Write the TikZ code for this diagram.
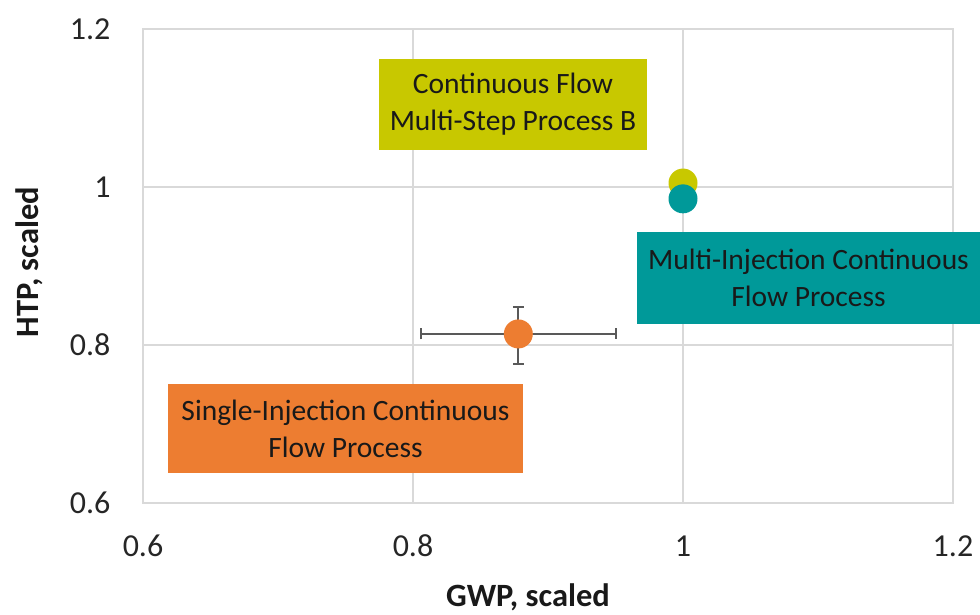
\documentclass[tikz,border=0pt]{standalone}
\usepackage{fontspec}
\setmainfont{Carlito}
\usepackage{tikz}
\usetikzlibrary{arrows.meta,positioning}

\begin{document}
\begin{tikzpicture}[x=1pt, y=1pt,
    every node/.style={font=\fontsize{29.5}{37}\selectfont},
    ticklabel/.style={font=\fontsize{32}{38}\selectfont, text=black!85},
    axistitle/.style={font=\fontsize{32.5}{38}\selectfont\bfseries, text=black!90},
    labelbox/.style={inner sep=0pt, align=center, text=black!90},
    dot/.style={circle, inner sep=0pt, minimum size=29pt},
    errbar/.style={draw=black!65, line width=1.8pt, {Bar[width=11pt]}-{Bar[width=11pt]}}]
    \definecolor{gridgray}{HTML}{D9D9D9}
    \definecolor{ptyellow}{HTML}{C8C800}
    \definecolor{ptteal}{HTML}{009999}
    \definecolor{ptorange}{HTML}{ED7D31}

    \useasboundingbox (0,0) rectangle (980,614);

    % =================== plot area (data coordinates) ===================
    \begin{scope}[x=1350pt, y=790pt, shift={(-667pt,-363pt)}]
      % frame and grid
      \draw[gridgray, line width=1.2pt] (0.6,0.6) rectangle (1.2,1.2);
      \foreach \v in {0.8,1.0}{
        \draw[gridgray, line width=1.2pt] (\v,0.6) -- (\v,1.2);
        \draw[gridgray, line width=1.2pt] (0.6,\v) -- (1.2,\v);
      }
      % tick labels
      \foreach \v/\t in {0.6/0.6,0.8/0.8,1.0/1,1.2/1.2}{
        \node[ticklabel, anchor=east] (ytick\t) at ([xshift=-29pt]0.6,\v) {\t};
        \node[ticklabel] (xtick\t) at ([yshift=-43pt]\v,0.6) {\t};
      }

      % single-injection point with error bars
      \draw[errbar] (0.805,0.814) -- (0.951,0.814);
      \draw[errbar] (0.878,0.775) -- (0.878,0.849);
      \node[dot, fill=ptorange] (ptsingle) at (0.878,0.814) {};

      % multi-step B and multi-injection points
      \node[dot, fill=ptyellow] (ptmultistep) at (1.0,1.005) {};
      \node[dot, fill=ptteal] (ptmultiinj) at (1.0,0.985) {};
    \end{scope}

    % =================== labels ===================
    \node[labelbox, fill=ptyellow, minimum width=268pt, minimum height=91pt]
      (lblmultistep) at (513,509.5) {Continuous Flow\\Multi-Step Process B};
    \node[labelbox, fill=ptteal, minimum width=343pt, minimum height=92pt]
      (lblmultiinj) at (808.5,336) {Multi-Injection Continuous\\Flow Process};
    \node[labelbox, fill=ptorange, minimum width=355pt, minimum height=89pt]
      (lblsingle) at (345.5,185.5) {Single-Injection Continuous\\Flow Process};

    % axis titles
    \node[axistitle] (xtitle) at (528,17) {GWP, scaled};
    \node[axistitle, rotate=90] (ytitle) at (29,352) {HTP, scaled};
  \end{tikzpicture}
\end{document}
